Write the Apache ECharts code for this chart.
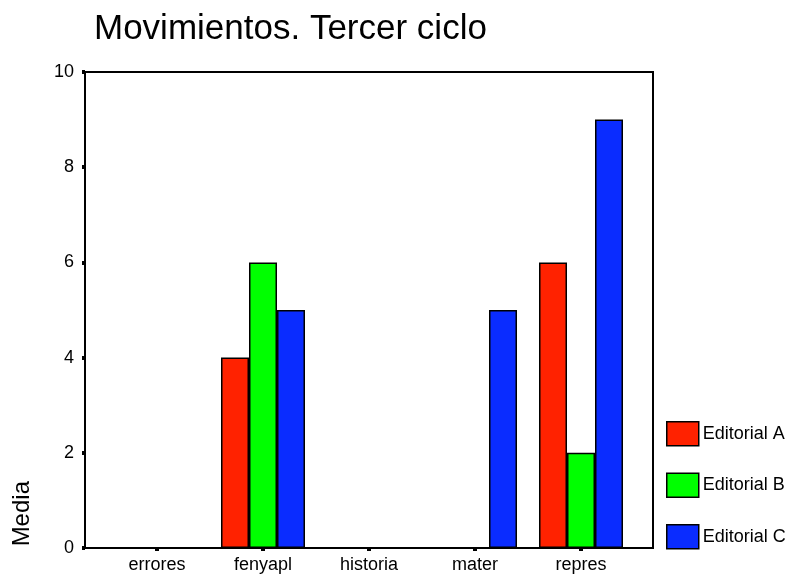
<!DOCTYPE html>
<html>
<head>
<meta charset="utf-8">
<script src="https://cdn.jsdelivr.net/npm/echarts@6/dist/echarts.min.js"></script>
<style>html,body{margin:0;padding:0;background:#fff}#c{width:794px;height:577px}</style>
</head>
<body>
<div id="c"></div>
<script>
var categories = ['errores', 'fenyapl', 'historia', 'mater', 'repres'];
var editorialA = [null, 4, null, null, 6];
var editorialB = [null, 6, null, null, 2];
var editorialC = [null, 5, null, 5, 9];
var seriesNames = ['Editorial A', 'Editorial B', 'Editorial C'];
var colors = ['#ff2200', '#00ff00', '#0a2cff'];

var chart = echarts.init(document.getElementById('c'), null, {renderer: 'canvas'});
var font = 'Arial, "Liberation Sans", sans-serif';
function bar(name, data, color) {
  return {
    name: name, type: 'bar', data: data, barWidth: 28, barGap: '0%',
    itemStyle: {color: color, borderColor: '#000', borderWidth: 1.5},
    xAxisIndex: 0, yAxisIndex: 0
  };
}
chart.setOption({
  animation: false,
  backgroundColor: '#fff',
  title: {
    text: 'Movimientos. Tercer ciclo', left: 94, top: 12, padding: 0,
    textStyle: {fontFamily: font, fontSize: 35, fontWeight: 'normal', color: '#000'}
  },
  legend: {
    orient: 'vertical', left: 666, top: 421, padding: 0, itemWidth: 32, itemHeight: 24, itemGap: 26,
    icon: 'rect',
    data: seriesNames,
    textStyle: {fontFamily: font, fontSize: 18, color: '#000', padding: [0, 0, 0, -1]},
    itemStyle: {borderColor: '#000', borderWidth: 1.5}
  },
  grid: [
    {left: 104, right: 160, top: 72, bottom: 29, containLabel: false},
    {left: 85, right: 141, top: 72, bottom: 29, show: true, borderColor: '#000', borderWidth: 2, backgroundColor: 'transparent'}
  ],
  xAxis: [
    {type: 'category', gridIndex: 0, data: categories,
     axisLine: {show: true, lineStyle: {color: '#000', width: 2}},
     axisTick: {show: true, alignWithLabel: true, length: 3, lineStyle: {color: '#000', width: 4}},
     axisLabel: {fontFamily: font, fontSize: 18, color: '#000', margin: 8}},
    {type: 'value', gridIndex: 1, show: false, min: 0, max: 1}
  ],
  yAxis: [
    {type: 'value', gridIndex: 0, min: 0, max: 10, interval: 2, offset: 19,
     axisLine: {show: true, lineStyle: {color: '#000', width: 2}},
     axisTick: {show: true, length: 3, lineStyle: {color: '#000', width: 4}},
     splitLine: {show: false},
     axisLabel: {fontFamily: font, fontSize: 18, color: '#000', margin: 11}},
    {type: 'value', gridIndex: 1, show: false, min: 0, max: 1}
  ],
  graphic: [{
    type: 'text', left: 10, top: 481, rotation: Math.PI / 2,
    style: {text: 'Media', fontFamily: font, fontSize: 24, fill: '#000'}
  }],
  series: [
    bar(seriesNames[0], editorialA, colors[0]),
    bar(seriesNames[1], editorialB, colors[1]),
    bar(seriesNames[2], editorialC, colors[2])
  ]
});
</script>
</body>
</html>
